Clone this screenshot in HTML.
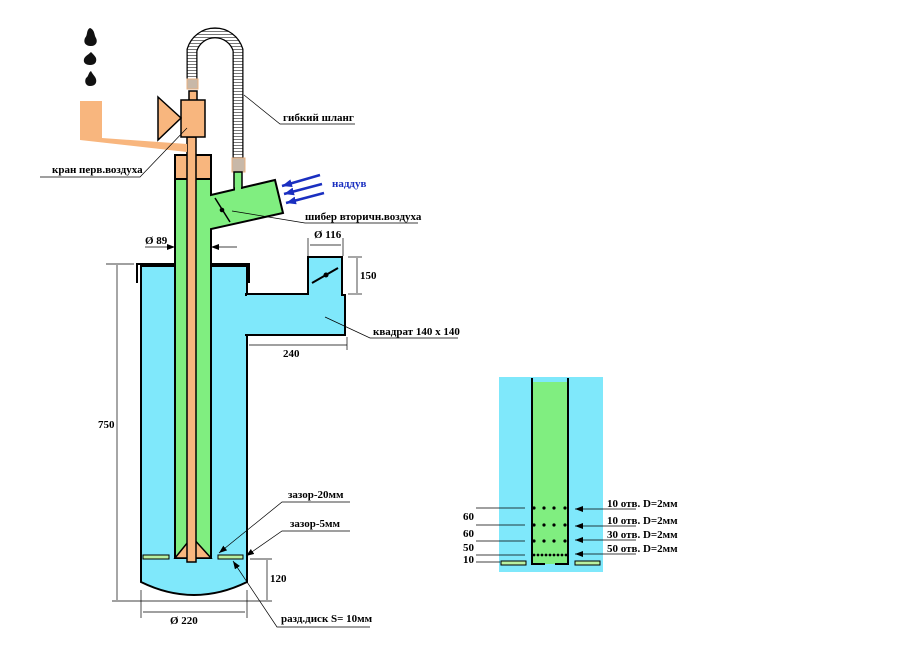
<!DOCTYPE html>
<html><head><meta charset="utf-8"><style>
body{margin:0;background:#fff}
svg{display:block}
text{font-family:"Liberation Serif",serif;font-weight:bold;font-size:11px;fill:#000}
</style></head><body>
<svg width="900" height="664" viewBox="0 0 900 664" xmlns="http://www.w3.org/2000/svg">
<defs>
<marker id="ar" markerWidth="8" markerHeight="6" refX="8" refY="3" orient="auto" markerUnits="userSpaceOnUse"><path d="M0,0L8,3L0,6z" fill="#000"/></marker>
<marker id="ab" markerWidth="10" markerHeight="8" refX="10" refY="4" orient="auto" markerUnits="userSpaceOnUse"><path d="M0,0L10,4L0,8z" fill="#1a2fc0"/></marker>
<pattern id="hs" width="4" height="3" patternUnits="userSpaceOnUse"><rect width="4" height="3" fill="#fff"/><line x1="0" y1="1.5" x2="4" y2="1.5" stroke="#555" stroke-width="0.8"/></pattern>
</defs>
<g fill="#111">
<path d="M90,28 C86,30 88,35 85,38 C83,43 86,46 91,46 C96,46 98,42 96,38 C94,35 95,30 90,28z"/>
<path d="M91,52 C88,55 85,56 84,59 C83,63 86,65 90,65 C95,65 97,62 96,58 C95,56 93,54 91,52z"/>
<path d="M91,71 C88,73 89,76 86,78 C84,82 86,86 90,86 C95,86 97,83 96,79 C95,76 93,75 91,71z"/>
</g>
<path d="M192,88 L192,50 A24,24 0 0 1 238,50 L238,160" fill="none" stroke="#000" stroke-width="11"/>
<path d="M192,88 L192,50 A24,24 0 0 1 238,50 L238,160" fill="none" stroke="url(#hs)" stroke-width="8.5"/>
<rect x="187" y="79" width="11" height="10" fill="#c8b8a8" stroke="#e8b080"/>
<rect x="232" y="158" width="13" height="14" fill="#c8b8a8" stroke="#e8b080"/>
<path d="M141,266 L247,266 L247,582 Q194,608 141,582 Z" fill="#7fe8fb" stroke="#000" stroke-width="2"/>
<path d="M137,283 L137,264 L249,264 L249,283" fill="none" stroke="#000" stroke-width="2"/>
<path d="M246,294 L308,294 L308,257 L342,257 L342,295 L345,295 L345,335 L246,335 Z" fill="#7fe8fb" stroke="#000" stroke-width="2"/>
<rect x="244" y="296" width="4" height="38" fill="#7fe8fb"/>
<line x1="312" y1="283" x2="338" y2="268" stroke="#000" stroke-width="2"/><circle cx="326" cy="275" r="2.5"/>
<path d="M175,179 L211,179 L211,195 L275,180 L283,213 L211,229 L211,558 L175,558 Z" fill="#80ee80" stroke="#000" stroke-width="2"/>
<rect x="234" y="172" width="8" height="16" fill="#80ee80" stroke="#000" stroke-width="1.5"/>
<rect x="235" y="180" width="6" height="18" fill="#80ee80"/>
<line x1="215" y1="198" x2="230" y2="222" stroke="#000" stroke-width="1.5"/><circle cx="222" cy="210" r="2.3"/>
<rect x="175" y="155" width="36" height="24" fill="#f8b67e" stroke="#000" stroke-width="2"/>
<path d="M175,558 L192,537 L211,558 Z" fill="#f8b67e" stroke="#000" stroke-width="1.5"/>
<rect x="187" y="137" width="9" height="425" fill="#f8b67e" stroke="#000" stroke-width="1.5"/>
<rect x="189" y="91" width="8" height="10" fill="#f8b67e" stroke="#000" stroke-width="1.5"/>
<rect x="181" y="100" width="24" height="37" fill="#f8b67e" stroke="#000" stroke-width="1.5"/>
<path d="M158,97 L181,118 L158,140 Z" fill="#f8b67e" stroke="#000" stroke-width="1.5"/>
<path d="M80,101 L102,101 L102,138 L187,144 L187,152 L80,140 Z" fill="#f8b67e"/>
<rect x="143" y="555" width="26" height="4" fill="#b8f0a0" stroke="#000"/>
<rect x="218" y="555" width="25" height="4" fill="#b8f0a0" stroke="#000"/>
<g stroke="#1a2fc0" stroke-width="2.5">
<line x1="320" y1="175" x2="282" y2="186" marker-end="url(#ab)"/>
<line x1="322" y1="184" x2="284" y2="194" marker-end="url(#ab)"/>
<line x1="324" y1="193" x2="286" y2="203" marker-end="url(#ab)"/>
</g>
<text x="332" y="187" style="fill:#1a2fc0">наддув</text>
<g stroke="#000" stroke-width="0.7" fill="none">
<path d="M355,124 L280,124 L244,95"/>
<path d="M418,223 L305,223 L232,211"/>
<path d="M40,177 L140,177 L187,128"/>
<path d="M458,338 L370,338 L325,317"/>
<path d="M350,502 L282,502 L219,553" marker-end="url(#ar)"/>
<path d="M350,531 L282,531 L246,556" marker-end="url(#ar)"/>
<path d="M370,627 L277,627 L233,561" marker-end="url(#ar)"/>
<line x1="145" y1="247" x2="175" y2="247" marker-end="url(#ar)"/>
<line x1="237" y1="247" x2="211" y2="247" marker-end="url(#ar)"/>
<line x1="308" y1="238" x2="308" y2="256"/><line x1="343" y1="238" x2="343" y2="256"/>
<line x1="310" y1="245" x2="341" y2="245"/>
<line x1="348" y1="257" x2="362" y2="257"/><line x1="348" y1="294" x2="362" y2="294"/>
<line x1="357" y1="258" x2="357" y2="293"/>
<line x1="347" y1="337" x2="347" y2="350"/><line x1="249" y1="345" x2="347" y2="345"/>
<line x1="106" y1="264" x2="134" y2="264"/><line x1="117" y1="265" x2="117" y2="600"/>
<line x1="112" y1="601" x2="272" y2="601"/>
<line x1="141" y1="590" x2="141" y2="618"/><line x1="247" y1="590" x2="247" y2="618"/>
<line x1="143" y1="612" x2="245" y2="612"/>
<line x1="250" y1="559" x2="272" y2="559"/><line x1="267" y1="560" x2="267" y2="600"/>
</g>
<text x="283" y="121">гибкий шланг</text>
<text x="305" y="220">шибер вторичн.воздуха</text>
<text x="52" y="173">кран перв.воздуха</text>
<text x="145" y="244">Ø 89</text>
<text x="314" y="238">Ø 116</text>
<text x="360" y="279">150</text>
<text x="373" y="335">квадрат 140 х 140</text>
<text x="283" y="357">240</text>
<text x="98" y="428">750</text>
<text x="288" y="498">зазор-20мм</text>
<text x="290" y="527">зазор-5мм</text>
<text x="270" y="582">120</text>
<text x="170" y="624">Ø 220</text>
<text x="281" y="622">разд.диск S= 10мм</text>
<rect x="499" y="377" width="104" height="195" fill="#7fe8fb"/>
<rect x="533" y="382" width="34" height="182" fill="#80ee80"/>
<path d="M532,378 L532,564 L545,564 M555,564 L568,564 L568,378" fill="none" stroke="#000" stroke-width="2"/>
<rect x="501" y="561" width="25" height="4" fill="#b8f0a0" stroke="#000"/>
<rect x="575" y="561" width="25" height="4" fill="#b8f0a0" stroke="#000"/>
<g fill="#000">
<circle cx="534" cy="508" r="1.6"/><circle cx="544" cy="508" r="1.6"/><circle cx="554" cy="508" r="1.6"/><circle cx="565" cy="508" r="1.6"/>
<circle cx="534" cy="525" r="1.6"/><circle cx="544" cy="525" r="1.6"/><circle cx="554" cy="525" r="1.6"/><circle cx="565" cy="525" r="1.6"/>
<circle cx="534" cy="541" r="1.6"/><circle cx="544" cy="541" r="1.6"/><circle cx="554" cy="541" r="1.6"/><circle cx="565" cy="541" r="1.6"/>
<circle cx="534" cy="555" r="1.4"/><circle cx="538" cy="555" r="1.4"/><circle cx="542" cy="555" r="1.4"/><circle cx="546" cy="555" r="1.4"/><circle cx="550" cy="555" r="1.4"/><circle cx="554" cy="555" r="1.4"/><circle cx="558" cy="555" r="1.4"/><circle cx="562" cy="555" r="1.4"/><circle cx="566" cy="555" r="1.4"/>
</g>
<g stroke="#000" stroke-width="0.7">
<line x1="476" y1="508" x2="525" y2="508"/><line x1="476" y1="525" x2="525" y2="525"/>
<line x1="476" y1="541" x2="525" y2="541"/><line x1="476" y1="555" x2="525" y2="555"/>
<line x1="476" y1="562" x2="500" y2="562"/>
<line x1="636" y1="509" x2="575" y2="509" marker-end="url(#ar)"/>
<line x1="636" y1="526" x2="575" y2="526" marker-end="url(#ar)"/>
<line x1="636" y1="540" x2="575" y2="540" marker-end="url(#ar)"/>
<line x1="636" y1="554" x2="575" y2="554" marker-end="url(#ar)"/>
</g>
<text x="463" y="520">60</text><text x="463" y="537">60</text>
<text x="463" y="551">50</text><text x="463" y="563">10</text>
<text x="607" y="507">10 отв. D=2мм</text>
<text x="607" y="524">10 отв. D=2мм</text>
<text x="607" y="538">30 отв. D=2мм</text>
<text x="607" y="552">50 отв. D=2мм</text>
</svg>
</body></html>
